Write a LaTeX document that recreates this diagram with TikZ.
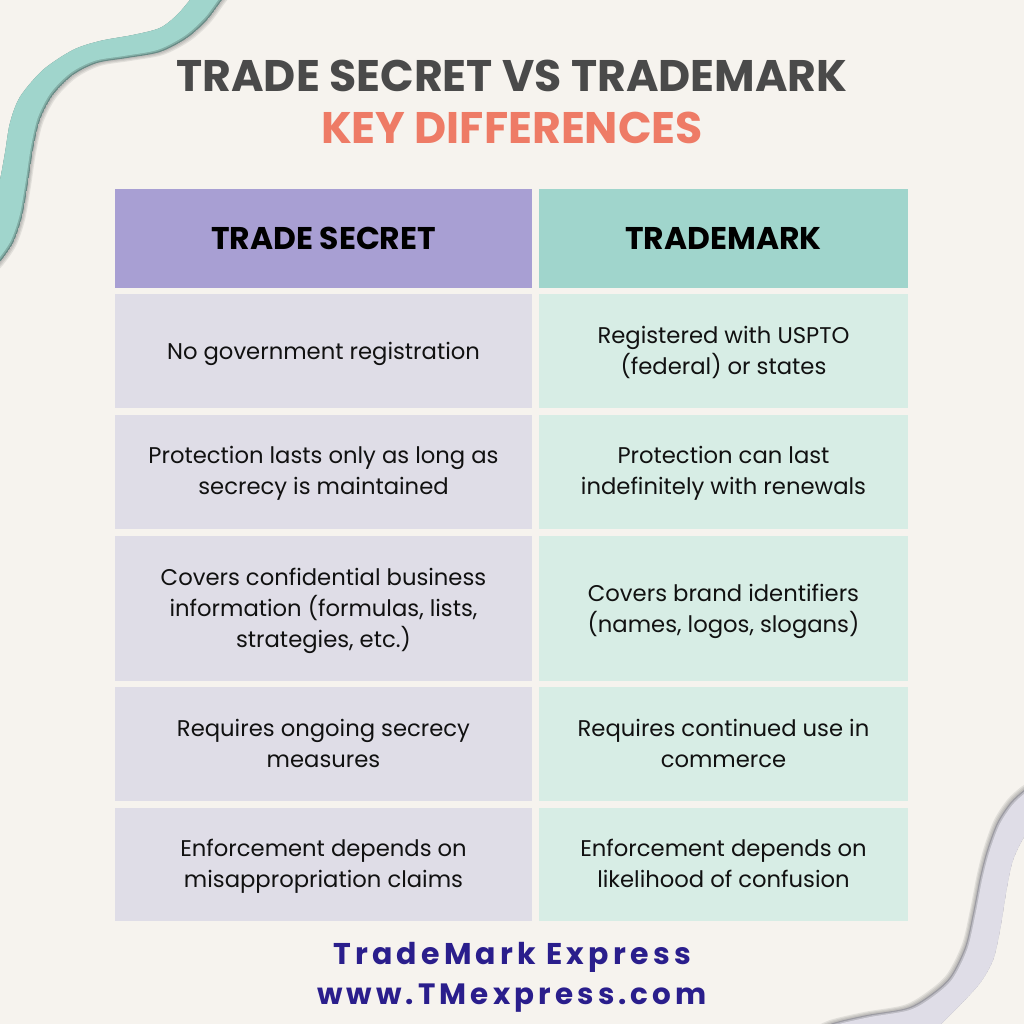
\documentclass[tikz,border=0pt]{standalone}
\usepackage{fontspec}
\setmainfont{Poppins}
\newfontfamily\footfont[LetterSpace=14]{Poppins}
\usetikzlibrary{positioning}
\definecolor{pagebg}{HTML}{F6F3EE}
\definecolor{headleft}{HTML}{A89FD3}
\definecolor{headright}{HTML}{A0D5CC}
\definecolor{cellleft}{HTML}{DFDDE7}
\definecolor{cellright}{HTML}{D7EDE5}
\definecolor{titlegray}{HTML}{4A4A4A}
\definecolor{titlecoral}{HTML}{EE7B66}
\definecolor{footblue}{HTML}{2A1E8C}
\definecolor{textblack}{HTML}{111111}
\tikzset{
  cell/.style={anchor=center, inner sep=0pt, align=center, text=textblack,
    font=\fontsize{22.7}{31}\selectfont,
    execute at begin node=\strut, execute at end node=\strut},
  headtext/.style={anchor=center, inner sep=0pt, text=black,
    font=\fontsize{31.4}{38}\selectfont\bfseries},
  titletext/.style={anchor=center, inner sep=0pt, font=\fontsize{44.2}{54}\selectfont\bfseries},
  foottext/.style={anchor=center, inner sep=0pt, text=footblue,
    font=\fontsize{30}{35}\selectfont\footfont\bfseries}
}
\newcommand{\ribbon}[5]{ % #1: outline, #2: fill, #3: inner shade, #4: x-shift, #5: y-shift
  \foreach \s in {3,2,1}
  {
    \fill[black!60,opacity=0.14,xshift=\s*#4,yshift=-\s*#5] #1;
  }
  \begin{scope}
    \clip #1;
    \fill[#3] #1;
    \fill[#3!50!#2,xshift=1*-#4,yshift=1*#5] #1;
    \fill[#2,xshift=2.2*-#4,yshift=2.2*#5] #1;
  \end{scope}
}
\def\tealpath{plot[smooth] coordinates {(200,-12) (190,0) (177,15) (160,28) (133,35) (100,41) (73,50) (43,70) (20,97) (10,123) (5,153) (0,180) (-8,215)}
  -- plot[smooth] coordinates {(-8,270) (0,262) (13,243) (22,217) (28,183) (33,150) (40,120) (53,95) (73,75) (97,63) (127,58) (160,52) (187,38) (207,20) (222,0) (232,-12)} -- cycle}
\def\lavpath{plot[smooth] coordinates {(1040,780) (1024,790) (1010,803) (997,823) (987,850) (980,877) (973,913) (965,947) (950,977) (930,995) (907,1008) (867,1015) (833,1023) (815,1032)}
  -- plot[smooth] coordinates {(925,1040) (940,1025) (960,1005) (980,983) (993,960) (1000,930) (1007,887) (1013,860) (1024,837) (1040,815)} -- cycle}
\begin{document}
\begin{tikzpicture}[x=1pt,y=-1pt]

\useasboundingbox (0,0) rectangle (1024,1024);
\fill[pagebg] (0,0) rectangle (1024,1024);

% Corner ribbons
\ribbon{\tealpath}{headright}{headright!65!black}{1pt}{1pt}
\ribbon{\lavpath}{cellleft}{cellleft!70!black}{-1pt}{-1pt}

% Title
\node[titletext,text=titlegray] (title) at (512,76) {TRADE SECRET VS TRADEMARK};
\node[titletext,text=titlecoral] (subtitle) at (512,128) {KEY DIFFERENCES};

% Header row
\fill[headleft] (115,189) rectangle (532,288);
\fill[headright] (539,189) rectangle (908,288);
\node[headtext] (headsecret) at (323.5,238) {TRADE SECRET};
\node[headtext] (headmark) at (723.5,238) {TRADEMARK};

% Body rows
\foreach \top/\bot in {294/408,415/529,536/681,687/801,808/921}
{
    \fill[cellleft] (115,\top) rectangle (532,\bot);
    \fill[cellright] (539,\top) rectangle (908,\bot);
}

% Left column
\node[cell] (secretone) at (323.5,353) {No government registration};
\node[cell] (secrettwo) at (323.5,475.5) {Protection lasts only as long as\\secrecy is maintained};
\node[cell] (secretthree) at (323.5,612) {Covers confidential business\\information (formulas, lists,\\strategies, etc.)};
\node[cell] (secretfour) at (323.5,748.5) {Requires ongoing secrecy\\measures};
\node[cell] (secretfive) at (323.5,867.5) {Enforcement depends on\\misappropriation claims};

% Right column
\node[cell] (markone) at (723.5,355.5) {Registered with USPTO\\(federal) or states};
\node[cell] (marktwo) at (723.5,475.5) {Protection can last\\indefinitely with renewals};
\node[cell] (markthree) at (723.5,612.5) {Covers brand identifiers\\(names, logos, slogans)};
\node[cell] (markfour) at (723.5,748.5) {Requires continued use in\\commerce};
\node[cell] (markfive) at (723.5,867.5) {Enforcement depends on\\likelihood of confusion};

% Footer
\node[foottext] (footname) at (512,957) {TradeMark Express};
\node[foottext,font=\fontsize{29.4}{35}\selectfont\footfont\bfseries] (footweb) at (512,998) {www.TMexpress.com};

\end{tikzpicture}
\end{document}
